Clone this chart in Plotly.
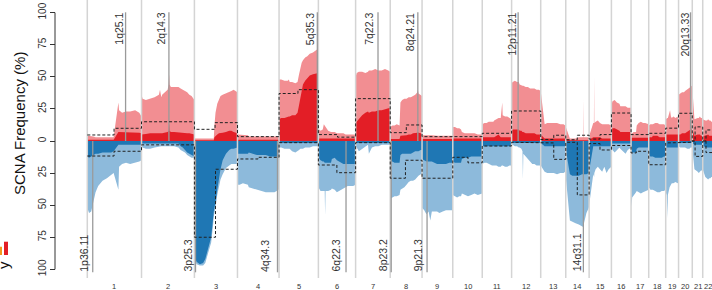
import plotly.graph_objects as go

N = None

# ---------------- data ----------------
CHROM_LEN = [249.25, 243.2, 198.0, 191.15, 180.9, 171.1, 159.1, 146.4, 141.2, 135.5, 135.0,
             133.85, 115.2, 107.35, 102.5, 90.35, 81.2, 78.1, 59.1, 63.0, 48.1, 51.3]
CHROM_NAMES = ["1", "2", "3", "4", "5", "6", "7", "8", "9", "10", "11", "12", "13", "14",
               "15", "16", "17", "18", "19", "20", "21", "22"]

# positions (Mb within chromosome); None = no data (centromere / gap)
POS = {
    1: [0, 8, 18, 28, 38, 50, 70, 90, 110, 121, N, 143, 146, 160, 178, 197, 220, 239, 249],
    2: [0, 5, 20, 40, 60, 80, 85, 91, N, 95, 110, 120, 125, 127, 129, 135, 150, 170, 180, 190, 200, 210, 220, 230, 243.2],
    3: [0, 10, 25, 40, 50, 57, 67, 77, 85, 89, N, 92, 97, 105, 113, 120, 130, 145, 160, 170, 180, 198],
    4: [0, 10, 25, 40, 48, N, 52, 70, 90, 110, 130, 150, 170, 180, 186, 191.15],
    5: [0, 10, 25, 40, 45, N, 49, 60, 75, 85, 92, 98, 104, 110, 120, 130, 141, 156, 172, 180.9],
    6: [0, 5, 10, 20, 25, 29, 31, 33, 45, 58, N, 62, 75, 85, 95, 105, 115, 125, 135, 145, 160, 171.1],
    7: [0, 5, 15, 30, 45, 57, N, 61, 75, 90, 105, 120, 135, 150, 159.1],
    8: [0, 10, 20, 30, 43, N, 47, 55, 65, 75, 85, 95, 105, 115, 125, 127, 130, 140, 146.4],
    9: [0, 10, 20, 30, 38, 45, N, 69, 80, 95, 110, 125, 141.2],
    10: [0, 10, 20, 30, 38, N, 42, 55, 70, 85, 100, 115, 130, 135.5],
    11: [0, 10, 20, 30, 45, 51, N, 55, 65, 75, 85, 90, 92, 94, 105, 115, 125, 135],
    12: [0, 5, 15, 25, 33, N, 37, 45, 50, 52, 54, 65, 75, 85, 95, 105, 115, 125, 133.85],
    13: [18, 30, 45, 60, 75, 90, 105, 113],
    14: [19, 30, 45, 60, 75, 79, 80, 81, 95, 106],
    15: [19, 22, 23, 24, 30, 40, 50, 60, 70, 80, 90, 102],
    16: [0, 5, 15, 25, 37, N, 41, 55, 65, 75, 85, 90.35],
    17: [0, 3, 5, 12, 20, 23, N, 26, 35, 45, 55, 65, 75, 81.2],
    18: [0, 8, 15, N, 19, 30, 40, 50, 60, 70, 78.1],
    19: [0, 5, 8, 10, 18, 20, 24, N, 28, 35, 45, 55, 59.1],
    20: [0, 8, 16, 25, N, 30, 40, 50, 55, 60, 63],
    21: [10, 20, 25, 30, 35, 40, 45, 48],
    22: [12, 20, 25, 30, 35, 40, 45, 51],
}

# frequency of any gain (%)
GAIN_ALL = {
    1: [4, 4, 3.5, 3.5, 3, 3, 3, 3, 3, 3, N, 30, 24, 22, 23, 23, 24, 22, 19],
    2: [36, 33, 32, 33, 34, 36, 40, 34, N, 36, 38, 40, 44, 52, 44, 42, 42, 42, 41, 40, 39, 38, 36, 35, 32],
    3: [2, 2, 2, 1.5, 1.5, 1.5, 1.5, 1.5, 2, 2, N, 12, 22, 29, 33, 35, 36, 37, 38, 39, 40, 38],
    4: [5, 5, 5, 4.5, 4.5, N, 3.5, 3.5, 3.5, 3.5, 3.5, 3.5, 3.5, 3.5, 3.5, 3.5],
    5: [48, 48, 47, 47, 48, N, 46, 46, 45, 46, 52, 58, 61, 63, 65, 66, 68, 69, 71, 72],
    6: [7, 9, 8, 9, 13, 12, 11, 10, 8, 7, N, 7, 7, 6, 6, 6, 6, 5, 5, 5, 5, 5],
    7: [50, 53, 54, 54, 53, 54, N, 55, 55, 56, 55, 55, 56, 55, 54],
    8: [11, 12, 12, 13, 12, N, 30, 32, 33, 33, 34, 34, 35, 36, 38, 40, 37, 36, 35],
    9: [4.5, 4.5, 4.5, 4.5, 4.5, 4.5, N, 4, 4, 4, 4, 4, 4],
    10: [11, 11, 10, 10, 9, N, 7, 6, 6, 6, 6, 5, 5, 5],
    11: [13, 14, 14, 15, 15, 15, N, 16, 17, 18, 18, 24, 30, 20, 19, 19, 18, 17],
    12: [45, 46, 47, 46, 46, N, 44, 43, 43, 43, 43, 42, 42, 41, 41, 41, 40, 40, 39],
    13: [13, 14, 14, 14, 14, 13, 13, 12],
    14: [2, 2, 2, 3, 3, 3, 33, 3, 3, 3],
    15: [14, 14, 50, 14, 15, 16, 14, 13, 13, 13, 13, 12],
    16: [28, 31, 32, 30, 29, N, 27, 27, 27, 26, 26, 26],
    17: [6, 6, 6, 7, 7, 7, N, 12, 14, 15, 14, 14, 13, 13],
    18: [12, 13, 13, N, 13, 14, 14, 13, 13, 13, 12],
    19: [17, 18, 18, 18, 22, 24, 19, N, 18, 19, 18, 19, 18],
    20: [36, 37, 38, 38, N, 39, 40, 41, 42, 43, 42],
    21: [17, 18, 18, 18, 19, 18, 18, 17],
    22: [16, 16, 17, 16, 16, 15, 15, 15],
}

# frequency of high-level gain (%)
GAIN_HIGH = {
    1: [1, 1, 1, 1, 1, 1, 1, 1, 1, 1, N, 7, 7, 6.5, 6.5, 7, 7, 6.5, 6],
    2: [5, 5, 5.5, 6, 6, 6, 6, 6, N, 6, 6.5, 7, 8, 14, 8, 7, 7, 6.5, 6.5, 6, 6, 6, 6, 5.5, 5],
    3: [0.5, 0.5, 0.5, 0.5, 0.5, 0.5, 0.5, 0.5, 0.5, 0.5, N, 3, 4, 5, 6, 6, 6.5, 7, 8, 8, 7, 6],
    4: [1, 1, 1, 1, 1, N, 1, 1, 1, 1, 1, 1, 1, 1, 1, 1],
    5: [17, 18, 18, 19, 19, N, 19, 20, 20, 22, 28, 34, 40, 44, 47, 49, 51, 52, 53, 53],
    6: [2, 2, 2, 2, 2, 2, 2, 2, 2, 2, N, 2, 2, 2, 2, 2, 2, 2, 2, 2, 2, 2],
    7: [14, 15, 17, 20, 22, 23, N, 22, 23, 23, 24, 24, 25, 26, 26],
    8: [1.5, 1.5, 1.5, 1.5, 1.5, N, 4, 4, 4.5, 4.5, 5, 5, 6, 6, 6.5, 7, 6.5, 6, 6],
    9: [1.5, 1.5, 1.5, 1.5, 1.5, 1.5, N, 1.5, 1.5, 1.5, 1.5, 1.5, 1.5],
    10: [2, 2, 2, 2, 2, N, 2, 2, 2, 2, 2, 2, 2, 2],
    11: [3, 3, 3, 3, 3, 3, N, 3, 4, 5, 3, 3, 3, 3, 3, 3, 3, 3],
    12: [8, 9, 9, 9, 9, N, 8, 8, 7, 7, 7, 6, 6, 6, 6, 6, 5, 5, 5],
    13: [2, 2, 2, 2, 2, 2, 2, 2],
    14: [0.5, 0.5, 0.5, 0.5, 0.5, 0.5, 0.5, 0.5, 0.5, 0.5],
    15: [3, 3, 3, 3, 3, 3, 3, 2, 2, 2, 2, 2],
    16: [9, 10, 10, 9, 8, N, 7, 7, 7, 7, 7, 6],
    17: [2.5, 2.5, 2.5, 2.5, 2.5, 2.5, N, 2.5, 2.5, 2.5, 2.5, 2.5, 2.5, 2.5],
    18: [3, 3, 3, N, 4, 4, 4, 3, 3, 3, 3],
    19: [5, 5, 5, 5, 5, 5, 5, N, 5, 5, 5, 5, 5],
    20: [5, 5, 6, 6, N, 6, 7, 8, 9, 10, 9],
    21: [4, 5, 5, 5, 5, 4, 4, 4],
    22: [4, 5, 5, 4, 4, 4, 4, 4],
}

# frequency of any loss (%)
LOSS_ALL = {
    1: [52, 56, 55, 48, 40, 35, 31, 29, 26, 25, N, 38, 20, 18, 17, 18, 17, 16, 15],
    2: [5, 5, 6, 6, 5, 4, 4, 4, N, 4, 4, 4, 4, 4, 4, 4, 4, 5, 7, 8, 9, 11, 12, 13, 13],
    3: [92, 96, 97, 97, 95, 91, 86, 79, 67, 59, N, 56, 52, 42, 35, 30, 26, 21, 19, 18, 18, 18],
    4: [34, 34, 33, 34, 34, N, 36, 37, 38, 39, 40, 40, 40, 39, 38, 38],
    5: [5, 5, 6, 6, 6, N, 6, 8, 9, 8, 7, 6, 6, 6, 5, 5, 5, 4, 4, 4],
    6: [36, 38, 39, 39, 39, 39, 58, 39, 39, 38, N, 37, 38, 40, 39, 38, 37, 36, 35, 35, 35, 34],
    7: [4, 5, 8, 6, 4, 3, N, 10, 5, 4, 4, 3, 3, 3, 3],
    8: [45, 44, 43, 43, 42, N, 38, 37, 36, 34, 32, 31, 31, 30, 28, 28, 27, 26, 26],
    9: [52, 54, 57, 55, 62, 55, N, 55, 56, 55, 54, 54, 54],
    10: [42, 43, 44, 43, 43, N, 41, 42, 43, 42, 41, 42, 41, 41],
    11: [18, 17, 17, 18, 19, 19, N, 19, 19, 20, 20, 19, 19, 19, 20, 20, 19, 19],
    12: [3, 3, 4, 4, 5, N, 5, 6, 8, 30, 10, 12, 14, 16, 18, 18, 19, 19, 19],
    13: [24, 25, 25, 25, 26, 25, 25, 24],
    14: [62, 63, 64, 65, 67, 67, 67, 66, 56, 52],
    15: [26, 28, 28, 25, 22, 20, 22, 24, 20, 25, 22, 20],
    16: [5, 7, 9, 7, 5, N, 6, 8, 10, 7, 6, 5],
    17: [45, 51, 44, 42, 40, 40, N, 39, 40, 41, 40, 39, 38, 38],
    18: [36, 38, 38, N, 38, 39, 40, 40, 39, 39, 38],
    19: [40, 42, 60, 42, 36, 35, 34, N, 33, 33, 32, 33, 32],
    20: [4, 5, 5, 5, N, 5, 6, 6, 5, 5, 5],
    21: [22, 23, 24, 25, 24, 23, 23, 22],
    22: [28, 29, 30, 29, 29, 28, 28, 28],
}

# frequency of deep / high-level loss (%)
LOSS_HIGH = {
    1: [12, 13, 12, 11, 10, 10, 9, 9, 9, 8, N, 3, 3, 3, 3, 3, 3, 3, 3],
    2: [2, 2, 2, 2, 2, 2, 2, 2, N, 2, 2, 2, 2, 2, 2, 2, 2, 2, 4, 5, 7, 9, 10, 11, 12],
    3: [90, 94, 96, 95, 92, 87, 82, 75, 62, 55, N, 52, 48, 38, 27, 22, 15, 10, 7, 6, 6, 5],
    4: [10, 10, 10, 10, 10, N, 9, 10, 11, 11, 11, 12, 12, 12, 12, 11],
    5: [1.5, 1.5, 1.5, 1.5, 1.5, N, 1.5, 1.5, 1.5, 1.5, 1.5, 1.5, 1.5, 1.5, 1.5, 1.5, 1.5, 1.5, 1.5, 1.5],
    6: [13, 14, 15, 16, 16, 17, 17, 17, 17, 17, N, 14, 13, 15, 16, 17, 18, 18, 18, 18, 18, 18],
    7: [1.5, 1.5, 1.5, 1.5, 1.5, 1.5, N, 1.5, 1.5, 1.5, 1.5, 1.5, 1.5, 1.5, 1.5],
    8: [16, 16, 17, 17, 17, N, 11, 10, 10, 10, 10, 10, 9, 8, 8, 8, 8, 7, 7],
    9: [14, 15, 16, 16, 16, 16, N, 18, 18, 18, 18, 17, 17],
    10: [16, 17, 17, 17, 17, N, 14, 13, 13, 12, 12, 12, 12, 12],
    11: [4, 4, 4, 4, 4, 4, N, 4, 4, 4, 4, 4, 4, 4, 4, 4, 4, 4],
    12: [1.5, 1.5, 1.5, 1.5, 1.5, N, 1.5, 1.5, 1.5, 1.5, 1.5, 1.5, 1.5, 1.5, 1.5, 1.5, 1.5, 1.5, 1.5],
    13: [4, 4, 4, 4, 4, 4, 4, 4],
    14: [26, 27, 27, 27, 26, 26, 26, 26, 26, 25],
    15: [4, 4, 4, 4, 4, 4, 4, 4, 4, 4, 4, 4],
    16: [2, 2, 2, 2, 2, N, 2, 2, 2, 2, 2, 2],
    17: [9, 9, 9, 9, 9, 9, N, 6, 5, 5, 5, 5, 5, 5],
    18: [11, 12, 12, N, 12, 13, 13, 13, 13, 12, 12],
    19: [5, 5, 5, 5, 5, 5, 5, N, 5, 5, 5, 5, 5],
    20: [1.5, 1.5, 1.5, 1.5, N, 1.5, 1.5, 1.5, 1.5, 1.5, 1.5],
    21: [3, 3, 3, 3, 3, 3, 3, 3],
    22: [5, 5, 5, 5, 5, 5, 5, 5],
}

# expected (arm-level) frequencies: (chrom, start Mb, end Mb, %)
DASH_GAIN = [
    (1, 0, 123, 4.7), (1, 123, 249.25, 9.9), (2, 0, 243.2, 15), (3, 0, 95, 9.1), (3, 95, 198, 14.3),
    (4, 0, 191.15, 3.4), (5, 0, 87, 37), (5, 87, 180.9, 40), (6, 0, 88, 5), (6, 88, 171.1, 3),
    (7, 0, 159.1, 33), (8, 0, 74, 6.5), (8, 74, 146.4, 12.5), (9, 0, 141.2, 3.4), (10, 0, 135.5, 3.4),
    (11, 0, 135.0, 6), (12, 0, 133.85, 23.4), (13, 0, 60, 1.2), (13, 60, 115.2, 4.5),
    (14, 0, 53, 1), (14, 53, 107.35, 4.5), (15, 0, 50, 1.5), (15, 50, 102.5, 5), (16, 0, 90.35, 21.8),
    (17, 0, 81.2, 5), (18, 0, 78.1, 6), (19, 0, 59.1, 10), (20, 0, 63.0, 21.6),
    (21, 0, 13, 0), (21, 13, 48.1, 11), (22, 0, 15, 0), (22, 15, 51.3, 8.6),
]
DASH_LOSS = [
    (1, 0, 123, 11.7), (1, 123, 249.25, 8), (2, 0, 243.2, 3), (3, 0, 97, 75), (3, 97, 198, 22),
    (4, 0, 95, 14), (4, 95, 191.15, 12.7), (5, 0, 180.9, 1.3), (6, 0, 85, 18.7), (6, 85, 171.1, 24.7),
    (7, 0, 159.1, 1.3), (8, 0, 70, 29), (8, 70, 146.4, 15), (9, 0, 141.2, 29), (10, 0, 70, 12.7),
    (10, 70, 135.5, 17), (11, 0, 135.0, 3.9), (12, 0, 133.85, 1), (13, 0, 60, 1.5), (13, 60, 115.2, 14.3),
    (14, 0, 53, 1), (14, 53, 107.35, 42), (15, 0, 50, 2), (15, 50, 102.5, 7), (16, 0, 90.35, 3.5),
    (17, 0, 24, 9.3), (17, 24, 81.2, 8), (18, 0, 78.1, 18.5), (19, 0, 59.1, 1.5), (20, 0, 63.0, 1),
    (21, 0, 13, 0), (21, 13, 48.1, 12), (22, 0, 15, 0), (22, 15, 51.3, 9),
]

GAIN_PEAK_LABELS = ["1q25.1", "2q14.3", "5q35.3", "7q22.3", "8q24.21", "12p11.21", "20q13.33"]
GAIN_PEAK_CHR = [1, 2, 5, 7, 8, 12, 20]
GAIN_PEAK_POS = [176, 126, 176, 103, 127, 30, 55]
LOSS_PEAK_LABELS = ["1p36.11", "3p25.3", "4q34.3", "6q22.3", "8p23.2", "9p21.3", "14q31.1"]
LOSS_PEAK_CHR = [1, 3, 4, 6, 8, 9, 14]
LOSS_PEAK_POS = [25, 5, 184, 127, 4.6, 23, 81]

Y_TICKS = [-100, -75, -50, -25, 0, 25, 50, 75, 100]

# ---------------- layout constants (pixels) ----------------
W, H = 712, 290
X0_PX, PX_PER_MB = 87.3, 0.2175
Y0_PX, PX_PER_PCT = 141.0, 1.2835
GAIN_LABEL_DX = [6.7, 8.2, 8.0, 9.0, 8.5, 5.8, 5.8]
LOSS_LABEL_DX = [9.0, 8.5, 13.0, 11.0, 8.5, 9.2, 6.6]

C_GAIN_ALL = "#F28E92"
C_GAIN_HIGH = "#E31E26"
C_LOSS_ALL = "#8DBADB"
C_LOSS_HIGH = "#1F77B4"
FONT = "Liberation Sans, Arial, Helvetica, sans-serif"


def px2x(px):
    return (px - X0_PX) / PX_PER_MB


def px2y(py):
    return (Y0_PX - py) / PX_PER_PCT


offsets = {}
acc = 0.0
for i, L in enumerate(CHROM_LEN, start=1):
    offsets[i] = acc
    acc += L


def build(vals, sign):
    xs, ys = [], []
    for c in range(1, 23):
        for p, v in zip(POS[c], vals[c]):
            if p is None or v is None:
                xs.append(None)
                ys.append(None)
            else:
                xs.append(offsets[c] + p)
                ys.append(sign * v)
        xs.append(None)
        ys.append(None)
    return xs, ys


def build_dash(segs, sign):
    xs, ys = [], []
    for c, s, e, v in segs:
        xs += [offsets[c] + s, offsets[c] + e]
        ys += [sign * v, sign * v]
    return xs, ys


fig = go.Figure()
for vals, sign, col in [(GAIN_ALL, 1, C_GAIN_ALL), (GAIN_HIGH, 1, C_GAIN_HIGH),
                        (LOSS_ALL, -1, C_LOSS_ALL), (LOSS_HIGH, -1, C_LOSS_HIGH)]:
    xs, ys = build(vals, sign)
    fig.add_trace(go.Scatter(x=xs, y=ys, mode="lines", fill="tozeroy", fillcolor=col,
                             line=dict(width=0, color=col), connectgaps=False,
                             hoverinfo="skip", showlegend=False))

# chromosome boundaries
bx, by = [], []
for c in range(1, 23):
    bx += [offsets[c], offsets[c], None]
    by += [px2y(0), px2y(278), None]
fig.add_trace(go.Scatter(x=bx, y=by, mode="lines", line=dict(color="#D4D4D4", width=1.5),
                         hoverinfo="skip", showlegend=False))

# peak lines
px_, py_ = [], []
for c, p in zip(GAIN_PEAK_CHR, GAIN_PEAK_POS):
    px_ += [offsets[c] + p, offsets[c] + p, None]
    py_ += [0, px2y(12.3), None]
for c, p in zip(LOSS_PEAK_CHR, LOSS_PEAK_POS):
    px_ += [offsets[c] + p, offsets[c] + p, None]
    py_ += [0, px2y(272.3), None]
fig.add_trace(go.Scatter(x=px_, y=py_, mode="lines", line=dict(color="#9A9A9A", width=1.3),
                         hoverinfo="skip", showlegend=False))

# dashed expected lines
for segs, sign in [(DASH_GAIN, 1), (DASH_LOSS, -1)]:
    xs, ys = build_dash(segs, sign)
    fig.add_trace(go.Scatter(x=xs, y=ys, mode="lines",
                             line=dict(color="#222222", width=1, dash="3px,2px"),
                             hoverinfo="skip", showlegend=False))

ann = []
for lab, c, p, dx in zip(GAIN_PEAK_LABELS, GAIN_PEAK_CHR, GAIN_PEAK_POS, GAIN_LABEL_DX):
    ann.append(dict(x=offsets[c] + p - dx / PX_PER_MB, y=px2y(11.8), text=lab, textangle=-90,
                    xanchor="center", yanchor="top", showarrow=False, borderpad=0,
                    font=dict(size=10.5, color="#333333", family=FONT)))
for lab, c, p, dx in zip(LOSS_PEAK_LABELS, LOSS_PEAK_CHR, LOSS_PEAK_POS, LOSS_LABEL_DX):
    ann.append(dict(x=offsets[c] + p - dx / PX_PER_MB, y=px2y(272.5), text=lab, textangle=-90,
                    xanchor="center", yanchor="bottom", showarrow=False, borderpad=0,
                    font=dict(size=10.5, color="#333333", family=FONT)))
for c, name in enumerate(CHROM_NAMES, start=1):
    ann.append(dict(x=offsets[c] + CHROM_LEN[c - 1] / 2, y=px2y(286.5), text=name,
                    showarrow=False, xanchor="center", yanchor="middle", borderpad=0,
                    font=dict(size=7.5, color="#333333", family=FONT)))
ann.append(dict(x=px2x(19), y=px2y(124), text="SCNA Frequency (%)", textangle=-90,
                showarrow=False, xanchor="center", yanchor="middle", borderpad=0,
                font=dict(size=15, color="#111111", family=FONT)))
ann.append(dict(x=px2x(3), y=px2y(265), text="y", textangle=-90, showarrow=False,
                xanchor="center", yanchor="middle", borderpad=0,
                font=dict(size=15, color="#111111", family=FONT)))

shapes = [
    dict(type="line", x0=px2x(55), x1=px2x(55), y0=-100, y1=100,
         line=dict(color="#333333", width=1)),
    dict(type="rect", x0=px2x(-1), x1=px2x(2), y0=px2y(255), y1=px2y(246.7),
         line=dict(width=0), fillcolor="#F39A1E"),
    dict(type="rect", x0=px2x(4), x1=px2x(8), y0=px2y(255), y1=px2y(241.7),
         line=dict(width=0), fillcolor="#E31E26"),
]

fig.update_layout(
    width=W, height=H, margin=dict(l=0, r=0, t=0, b=0, pad=0, autoexpand=False),
    paper_bgcolor="white", plot_bgcolor="white",
    showlegend=False, annotations=ann, shapes=shapes,
    xaxis=dict(range=[px2x(0), px2x(W)], visible=False, fixedrange=True, automargin=False),
    yaxis=dict(range=[px2y(H), px2y(0)], anchor="free", position=55 / W, side="left",
               automargin=False,
               tickvals=Y_TICKS, ticktext=[str(abs(v)) for v in Y_TICKS],
               ticks="outside", ticklen=5, tickwidth=1, tickcolor="#333333",
               tickangle=-90, tickfont=dict(size=10, color="#333333", family=FONT),
               showgrid=False, zeroline=False, showline=False, fixedrange=True),
)

fig.write_html("out.html", config={"displayModeBar": False})

# remove the browser's default page margin so the figure sits at the window origin
with open("out.html", "r", encoding="utf-8") as f:
    html = f.read()
html = html.replace("<head>", "<head><style>html,body{margin:0;padding:0;overflow:hidden;}</style>", 1)
with open("out.html", "w", encoding="utf-8") as f:
    f.write(html)
